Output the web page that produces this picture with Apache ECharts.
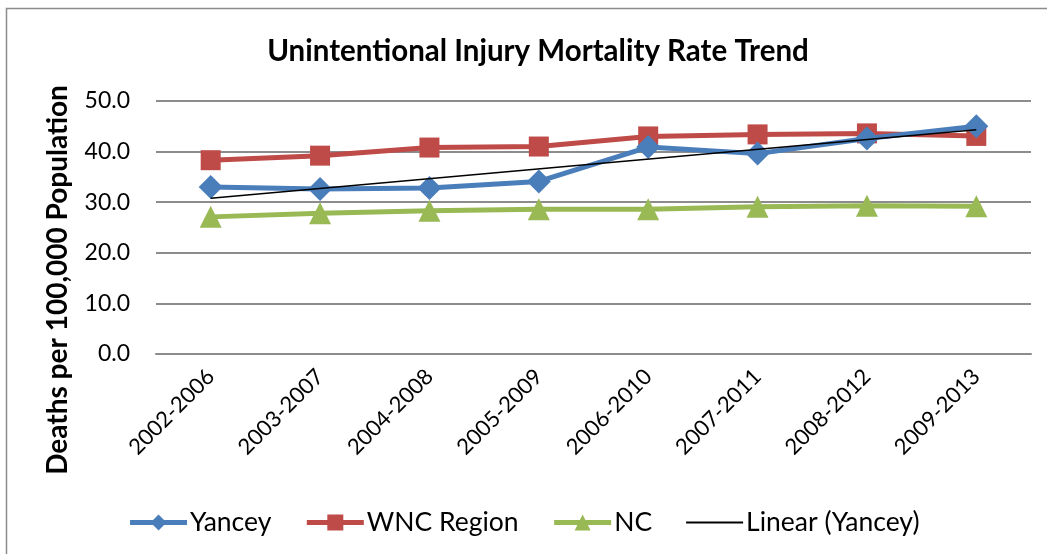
<!DOCTYPE html>
<html>
<head>
<meta charset="utf-8">
<script src="https://cdn.jsdelivr.net/npm/echarts@6/dist/echarts.min.js"></script>
<style>
  html, body { margin: 0; padding: 0; background: #fff; }
  #chart { width: 1047px; height: 554px; }
</style>
</head>
<body>
<div id="chart"></div>
<script>
const periods = ['2002-2006', '2003-2007', '2004-2008', '2005-2009', '2006-2010', '2007-2011', '2008-2012', '2009-2013'];
const yancey = [33.0, 32.6, 32.8, 34.1, 40.9, 39.6, 42.6, 45.0];
const wnc = [38.3, 39.2, 40.8, 41.0, 43.0, 43.4, 43.6, 43.1];
const nc = [27.1, 27.8, 28.3, 28.6, 28.6, 29.1, 29.3, 29.2];
// trend line endpoints as drawn (first and last period)
const trendEnds = [30.8, 44.3];
const yTicks = { min: 0, max: 50, interval: 10 };

const font = 'Lato, "Open Sans", sans-serif';
const trend = periods.map((p, i) => i === 0 ? trendEnds[0] : (i === periods.length - 1 ? trendEnds[1] : null));

const chart = echarts.init(document.getElementById('chart'));

const option = {
  backgroundColor: '#fff',
  animation: false,
  title: {
    text: 'Unintentional Injury Mortality Rate Trend',
    left: 533,
    textAlign: 'center',
    top: 31,
    textStyle: { fontFamily: font, fontWeight: 'bold', fontSize: 29.5, color: '#000' }
  },
  graphic: [
    {
      type: 'rect',
      shape: { x: 6.5, y: 8.5, width: 1100, height: 600 },
      style: { fill: 'none', stroke: '#8c8c8c', lineWidth: 1.5 },
      silent: true
    },
    {
      type: 'text',
      x: 58,
      y: 280,
      rotation: Math.PI / 2,
      style: {
        text: 'Deaths per 100,000 Population',
        fontFamily: font,
        fontWeight: 'bold',
        fontSize: 28,
        fill: '#000',
        align: 'center',
        verticalAlign: 'middle'
      }
    }
  ],
  legend: {
    top: 504,
    left: 'center',
    itemWidth: 57,
    itemHeight: 20,
    itemGap: 33,
    lineStyle: { width: 5 },
    textStyle: { fontFamily: font, fontSize: 26.5, color: '#000', padding: [0, 0, 0, -2] },
    data: [
      'Yancey',
      'WNC Region',
      'NC',
      { name: 'Linear (Yancey)', itemStyle: { opacity: 0 }, lineStyle: { width: 2 } }
    ]
  },
  grid: { left: 156, right: 16, top: 101, bottom: 200 },
  xAxis: {
    type: 'category',
    data: periods,
    boundaryGap: true,
    axisLine: { lineStyle: { color: '#8c8c8c', width: 2 } },
    axisTick: { show: false },
    axisLabel: {
      rotate: 45,
      margin: 19,
      fontFamily: font,
      fontSize: 22,
      color: '#000'
    }
  },
  yAxis: {
    type: 'value',
    min: yTicks.min,
    max: yTicks.max,
    interval: yTicks.interval,
    axisLine: { show: false },
    axisTick: { show: false },
    axisLabel: {
      margin: 26,
      fontFamily: font,
      fontSize: 23,
      color: '#000',
      formatter: v => v.toFixed(1)
    },
    splitLine: { lineStyle: { color: '#8c8c8c', width: 2 } }
  },
  series: [
    {
      name: 'Yancey',
      type: 'line',
      data: yancey,
      symbol: 'diamond',
      symbolSize: 24,
      color: '#4a7ebb',
      lineStyle: { width: 5, color: '#4a7ebb' },
      z: 4
    },
    {
      name: 'WNC Region',
      type: 'line',
      data: wnc,
      symbol: 'rect',
      symbolSize: 20,
      color: '#be4b48',
      lineStyle: { width: 5, color: '#be4b48' },
      z: 3
    },
    {
      name: 'NC',
      type: 'line',
      data: nc,
      symbol: 'triangle',
      symbolSize: 22,
      color: '#98b954',
      lineStyle: { width: 5, color: '#98b954' },
      z: 2
    },
    {
      name: 'Linear (Yancey)',
      type: 'line',
      data: trend,
      connectNulls: true,
      showSymbol: false,
      symbol: 'none',
      color: '#000',
      itemStyle: { opacity: 0 },
      lineStyle: { width: 1.5, color: '#000', opacity: 1 },
      z: 5
    }
  ]
};

chart.setOption(option);
</script>
</body>
</html>
